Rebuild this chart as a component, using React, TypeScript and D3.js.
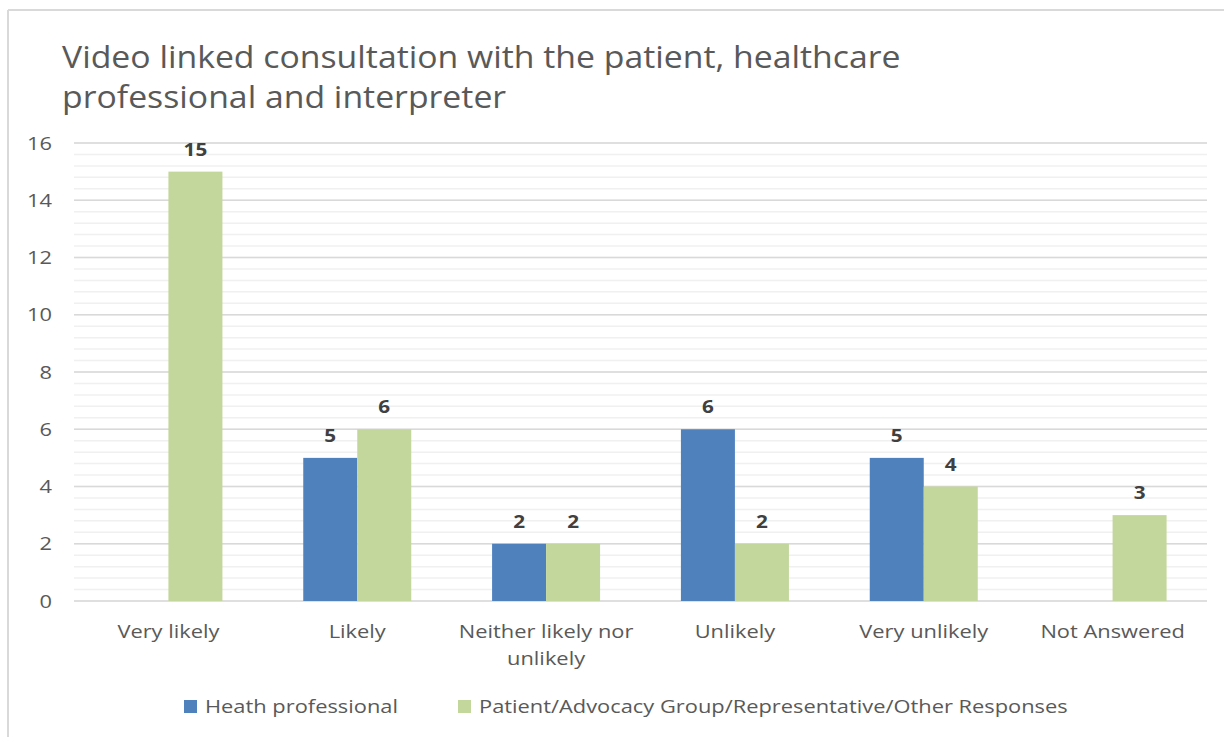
import * as d3 from 'd3';
import React from 'react';

const categories = [
    'Very likely',
    'Likely',
    'Neither likely nor unlikely',
    'Unlikely',
    'Very unlikely',
    'Not Answered',
];
const seriesNames = [
    'Heath professional',
    'Patient/Advocacy Group/Representative/Other Responses',
];
const healthValues = [0, 5, 2, 6, 5, 0];
const patientValues = [15, 6, 2, 2, 4, 3];
const yTicks = [0, 2, 4, 6, 8, 10, 12, 14, 16];

const COLORS = ['#4F81BD', '#C3D69B'];
const FONT = '"Open Sans", Lato, sans-serif';
const TEXT = '#595959';

const width = 1224;
const height = 737;
const plot = { left: 74, right: 1207, top: 143, bottom: 601 };

// category labels that Excel wraps onto two lines
const wrapped: Record<string, string[]> = {
    'Neither likely nor unlikely': ['Neither likely nor', 'unlikely'],
};

// the source image is slightly stretched horizontally, so text is widened a bit
type WideTextProps = React.SVGProps<SVGTextElement> & {
    px: number;
    py: number;
    sx?: number;
};
const WideText: React.FC<WideTextProps> = ({ px, py, sx = 1.15, children, ...rest }) => (
    <text transform={`translate(${px},${py}) scale(${sx},1)`} {...rest}>
        {children}
    </text>
);

const App: React.FC = () => {
    const x = d3
        .scaleBand<string>()
        .domain(categories)
        .range([plot.left, plot.right]);
    const bar = 54;
    const y = d3.scaleLinear().domain([0, 16]).range([plot.bottom, plot.top]);
    const minorTicks = d3.range(0, 16.001, 0.4);

    const series = [healthValues, patientValues];

    return (
        <svg
            width={width}
            height={height}
            style={{ position: 'absolute', left: 0, top: 0, background: '#fff' }}
            fontFamily={FONT}
        >
            {/* chart frame */}
            <line x1={8} y1={10} x2={width} y2={10} stroke="#d9d9d9" strokeWidth={2} />
            <line x1={8} y1={10} x2={8} y2={height} stroke="#d9d9d9" strokeWidth={2} />

            <WideText px={62} py={68} sx={1.108} fontSize={30.5} fill={TEXT}>
                Video linked consultation with the patient, healthcare
            </WideText>
            <WideText px={62} py={108} sx={1.108} fontSize={30.5} fill={TEXT}>
                professional and interpreter
            </WideText>

            {minorTicks.map((t) => (
                <line
                    key={'m' + t}
                    x1={plot.left}
                    x2={plot.right}
                    y1={y(t)}
                    y2={y(t)}
                    stroke="#f0f0f0"
                    strokeWidth={1.5}
                />
            ))}
            {yTicks.map((t) => (
                <g key={t}>
                    <line
                        x1={plot.left}
                        x2={plot.right}
                        y1={y(t)}
                        y2={y(t)}
                        stroke="#d9d9d9"
                        strokeWidth={1.5}
                    />
                    <WideText
                        px={52}
                        py={y(t)}
                        dy="0.35em"
                        textAnchor="end"
                        fontSize={19}
                        fill={TEXT}
                    >
                        {t}
                    </WideText>
                </g>
            ))}

            {categories.map((c, i) => {
                const cx = (x(c) as number) + x.bandwidth() / 2;
                return (
                    <g key={c}>
                        {series.map((vals, s) => {
                            const v = vals[i];
                            if (!v) return null;
                            const bx = cx - bar + s * bar;
                            return (
                                <g key={s}>
                                    <rect
                                        x={bx}
                                        y={y(v)}
                                        width={bar}
                                        height={y(0) - y(v)}
                                        fill={COLORS[s]}
                                    />
                                    <WideText
                                        px={bx + bar / 2}
                                        py={y(v) - 16}
                                        sx={1.12}
                                        textAnchor="middle"
                                        fontSize={18.5}
                                        fontWeight="bold"
                                        fill="#404040"
                                    >
                                        {v}
                                    </WideText>
                                </g>
                            );
                        })}
                        {(wrapped[c] || [c]).map((line, k) => (
                            <WideText
                                key={k}
                                px={cx}
                                py={638 + k * 27}
                                textAnchor="middle"
                                fontSize={19}
                                fill={TEXT}
                            >
                                {line}
                            </WideText>
                        ))}
                    </g>
                );
            })}

            {/* legend */}
            {seriesNames.map((name, s) => {
                const lx = s === 0 ? 184 : 458;
                return (
                    <g key={name}>
                        <rect x={lx} y={700} width={13} height={13} fill={COLORS[s]} />
                        <WideText px={lx + 21} py={713} fontSize={19} fill={TEXT}>
                            {name}
                        </WideText>
                    </g>
                );
            })}
        </svg>
    );
};

export default App;
